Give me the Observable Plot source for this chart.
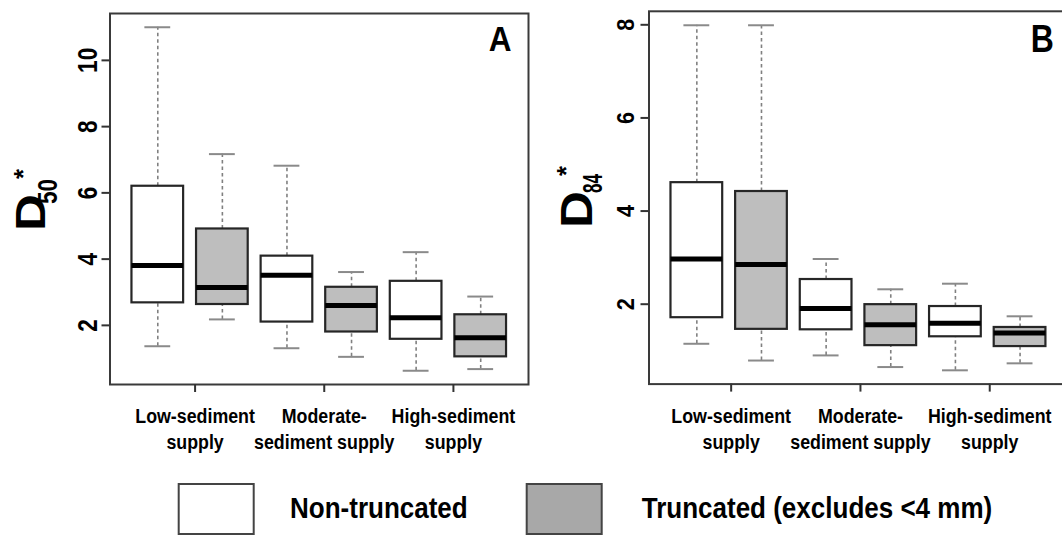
<!DOCTYPE html>
<html>
<head>
<meta charset="utf-8">
<script src="https://cdn.jsdelivr.net/npm/d3@7"></script>
<script src="https://cdn.jsdelivr.net/npm/@observablehq/plot@0.6"></script>
<style>
  html, body { margin: 0; padding: 0; background: #fff; overflow: hidden; }
  #wrap { position: relative; width: 1062px; height: 536px; overflow: hidden; }
  #wrap > svg { position: absolute; top: 0; }
</style>
</head>
<body>
<div id="wrap"></div>
<script>
// Sediment-supply classes (x axis) and the two grain-size treatments
const groups = ["Low-sediment\nsupply", "Moderate-\nsediment supply", "High-sediment\nsupply"];
const series = ["Non-truncated", "Truncated (excludes <4 mm)"];
const seriesFill = ["#ffffff", "#bebebe"];
const legendFill = ["#ffffff", "#a8a8a8"];

// Box summaries per supply class: [lower whisker, Q1, median, Q3, upper whisker]
const d50NonTruncated = [[1.37, 2.68, 3.81, 6.20, 11.0], [1.31, 2.10, 3.51, 4.09, 6.82], [0.63, 1.58, 2.23, 3.33, 4.21]];
const d50Truncated    = [[2.18, 2.63, 3.14, 4.91, 7.17], [1.05, 1.80, 2.60, 3.15, 3.61], [0.68, 1.05, 1.63, 2.32, 2.87]];
const d84NonTruncated = [[1.15, 1.71, 2.97, 4.61, 7.99], [0.90, 1.45, 1.91, 2.53, 2.97], [0.58, 1.30, 1.59, 1.95, 2.44]];
const d84Truncated    = [[0.79, 1.46, 2.85, 4.42, 7.99], [0.65, 1.11, 1.56, 1.99, 2.32], [0.73, 1.09, 1.38, 1.50, 1.74]];

const d50Ticks = [2, 4, 6, 8, 10];
const d84Ticks = [2, 4, 6, 8];

const FONT = "'Liberation Sans', Arial, sans-serif";
const ASCENT = 0.905, DESCENT = 0.212; // Liberation Sans em-box metrics

// Boxes sit at positions 1..6: pairs per supply class, ticks between each pair
function boxRows(nonT, trunc) {
  const rows = [];
  groups.forEach((g, i) => {
    [nonT[i], trunc[i]].forEach((v, s) => rows.push({
      group: g, series: series[s], pos: 2 * i + s + 1,
      lo: v[0], q1: v[1], med: v[2], q3: v[3], hi: v[4]
    }));
  });
  return rows;
}

function panel(o) {
  const rows = boxRows(o.nonT, o.trunc);
  const half = 0.4, cap = 0.2;
  return Plot.plot({
    width: o.width, height: o.height,
    marginLeft: o.marginLeft, marginRight: o.marginRight,
    marginTop: o.marginTop, marginBottom: o.height - o.frameBottom,
    x: {domain: o.xDomain, label: null},
    y: {domain: o.yDomain, label: null},
    color: {domain: series, range: seriesFill},
    style: {fontFamily: FONT, fontWeight: "bold", color: "#000", background: "transparent", overflow: "visible"},
    marks: [
      Plot.ruleX(rows, {x: "pos", y1: "q3", y2: "hi", stroke: "#808080", strokeWidth: 1.6, strokeDasharray: "3.5,3"}),
      Plot.ruleX(rows, {x: "pos", y1: "lo", y2: "q1", stroke: "#808080", strokeWidth: 1.6, strokeDasharray: "3.5,3"}),
      Plot.ruleY(rows, {y: "hi", x1: d => d.pos - cap, x2: d => d.pos + cap, stroke: "#8a8a8a", strokeWidth: 2}),
      Plot.ruleY(rows, {y: "lo", x1: d => d.pos - cap, x2: d => d.pos + cap, stroke: "#8a8a8a", strokeWidth: 2}),
      Plot.rect(rows, {x1: d => d.pos - half, x2: d => d.pos + half, y1: "q1", y2: "q3", fill: "series", stroke: "#262626", strokeWidth: 2.2}),
      Plot.ruleY(rows, {y: "med", x1: d => d.pos - half, x2: d => d.pos + half, stroke: "#000", strokeWidth: 5}),
      Plot.frame({stroke: "#3a3a3a", strokeWidth: 2}),
      Plot.axisY({ticks: o.ticks, tickSize: 8, tickRotate: -90, tickPadding: 4, fontSize: o.tickFont,
                  stroke: "#333", strokeWidth: 2, label: null}),
      Plot.axisX({ticks: [1.5, 3.5, 5.5], tickFormat: d => groups[(d - 1.5) / 2], tickSize: 8, tickPadding: 17,
                  fontSize: 20, lineHeight: 1.3, dx: o.labelDx, stroke: "#333", strokeWidth: 2, label: null}),
      Plot.text([o.letter], {frameAnchor: "top-right", dx: o.letterDx, dy: o.letterDy, fontSize: o.letterSize,
                             fontWeight: "bold", fill: "#000"})
    ]
  });
}

// Narrow the glyphs of a text (or of each of its lines) to the given share of their natural width
function condense(nodes, factor) {
  nodes.forEach(t => {
    const spans = t.querySelectorAll("tspan");
    (spans.length ? Array.from(spans) : [t]).forEach(el => {
      const len = el.getComputedTextLength();
      el.setAttribute("textLength", (len * factor).toFixed(2));
      el.setAttribute("lengthAdjust", "spacingAndGlyphs");
    });
  });
}

// Shift texts so their box edge lands on a given offset inside the svg
function nudge(svg, nodes, edge, target) {
  const base = svg.getBoundingClientRect();
  nodes.forEach(t => {
    const r = t.getBoundingClientRect();
    const prev = t.getAttribute("transform") || "";
    if (edge === "right") {
      t.setAttribute("transform", `translate(${(target - (r.right - base.left)).toFixed(2)},0) ${prev}`);
    } else {
      t.setAttribute("transform", `translate(0,${(target - (r.top - base.top)).toFixed(2)}) ${prev}`);
    }
  });
}

// Rotated y title: D with subscript percentile and asterisk
function addTitle(svg, parts) {
  const g = d3.select(svg).append("g")
    .attr("font-weight", "bold").attr("fill", "#000")
    .attr("font-family", FONT).attr("text-anchor", "start");
  for (const p of parts) {
    g.append("text")
      .attr("transform", `translate(${p.x},${p.y}) rotate(-90)`)
      .attr("font-size", p.size)
      .attr("textLength", p.len)
      .attr("lengthAdjust", "spacingAndGlyphs")
      .text(p.text);
  }
}

function finishPanel(svg, o) {
  const xLabels = Array.from(svg.querySelectorAll("g[aria-label='x-axis tick label'] text"));
  const yLabels = Array.from(svg.querySelectorAll("g[aria-label='y-axis tick label'] text"));
  condense(xLabels, 0.89);
  condense(yLabels, o.yFactor);
  condense(Array.from(svg.querySelectorAll("g[aria-label='text'] text")), o.letterFactor);
  // y labels: baseline toward the axis; x labels: first baseline below the frame
  nudge(svg, yLabels, "right", o.yBaseline + DESCENT * o.tickFont);
  nudge(svg, xLabels, "top", o.xBaseline - ASCENT * 20);
}

const wrap = document.getElementById("wrap");

const optsA = {
  nonT: d50NonTruncated, trunc: d50Truncated, ticks: d50Ticks,
  xDomain: [0.26, 6.74], yDomain: [0.215, 11.415],
  width: 530, height: 460, marginLeft: 109.5, marginRight: 2, marginTop: 13, frameBottom: 384,
  tickFont: 27.5, yFactor: 0.82, yBaseline: 97, xBaseline: 423.3, labelDx: 5,
  letter: "A", letterSize: 35, letterDx: -17, letterDy: 13, letterFactor: 0.9
};
const svgA = panel(optsA);
svgA.style.left = "0px";
wrap.appendChild(svgA);
finishPanel(svgA, optsA);
addTitle(svgA, [
  {text: "D", x: 45, y: 231, size: 42, len: 37},
  {text: "50", x: 57, y: 204, size: 28, len: 25},
  {text: "*", x: 32, y: 179, size: 26, len: 10}
]);

const optsB = {
  nonT: d84NonTruncated, trunc: d84Truncated, ticks: d84Ticks,
  xDomain: [0.26, 6.74], yDomain: [0.284, 8.29],
  width: 532, height: 460, marginLeft: 118.5, marginRight: -5.4, marginTop: 10.8, frameBottom: 383.6,
  tickFont: 24, yFactor: 0.9, yBaseline: 104, xBaseline: 423.3, labelDx: 2,
  letter: "B", letterSize: 39, letterDx: -14, letterDy: 12.5, letterFactor: 0.82
};
const svgB = panel(optsB);
svgB.style.left = "530px";
wrap.appendChild(svgB);
finishPanel(svgB, optsB);
addTitle(svgB, [
  {text: "D", x: 62, y: 228, size: 44, len: 37},
  {text: "84", x: 71.7, y: 193, size: 28, len: 19},
  {text: "*", x: 45.4, y: 176, size: 26, len: 10}
]);

// Legend below both panels
const legend = d3.select(wrap).append("svg")
  .attr("width", 1062).attr("height", 76)
  .style("top", "460px").style("left", "0px");
const legendBoxX = [178.7, 526.7];
const legendTextX = [290, 641.7];
series.forEach((name, i) => {
  legend.append("rect").attr("x", legendBoxX[i]).attr("y", 24).attr("width", 75).attr("height", 50)
    .attr("fill", legendFill[i]).attr("stroke", "#444").attr("stroke-width", 2);
  legend.append("text").attr("x", legendTextX[i]).attr("y", 58.3)
    .attr("font-family", FONT).attr("font-weight", "bold").attr("font-size", 30).attr("fill", "#000")
    .attr("class", "legend-label")
    .text(name);
});
condense(Array.from(legend.node().querySelectorAll("text.legend-label")), 0.867);
</script>
</body>
</html>
